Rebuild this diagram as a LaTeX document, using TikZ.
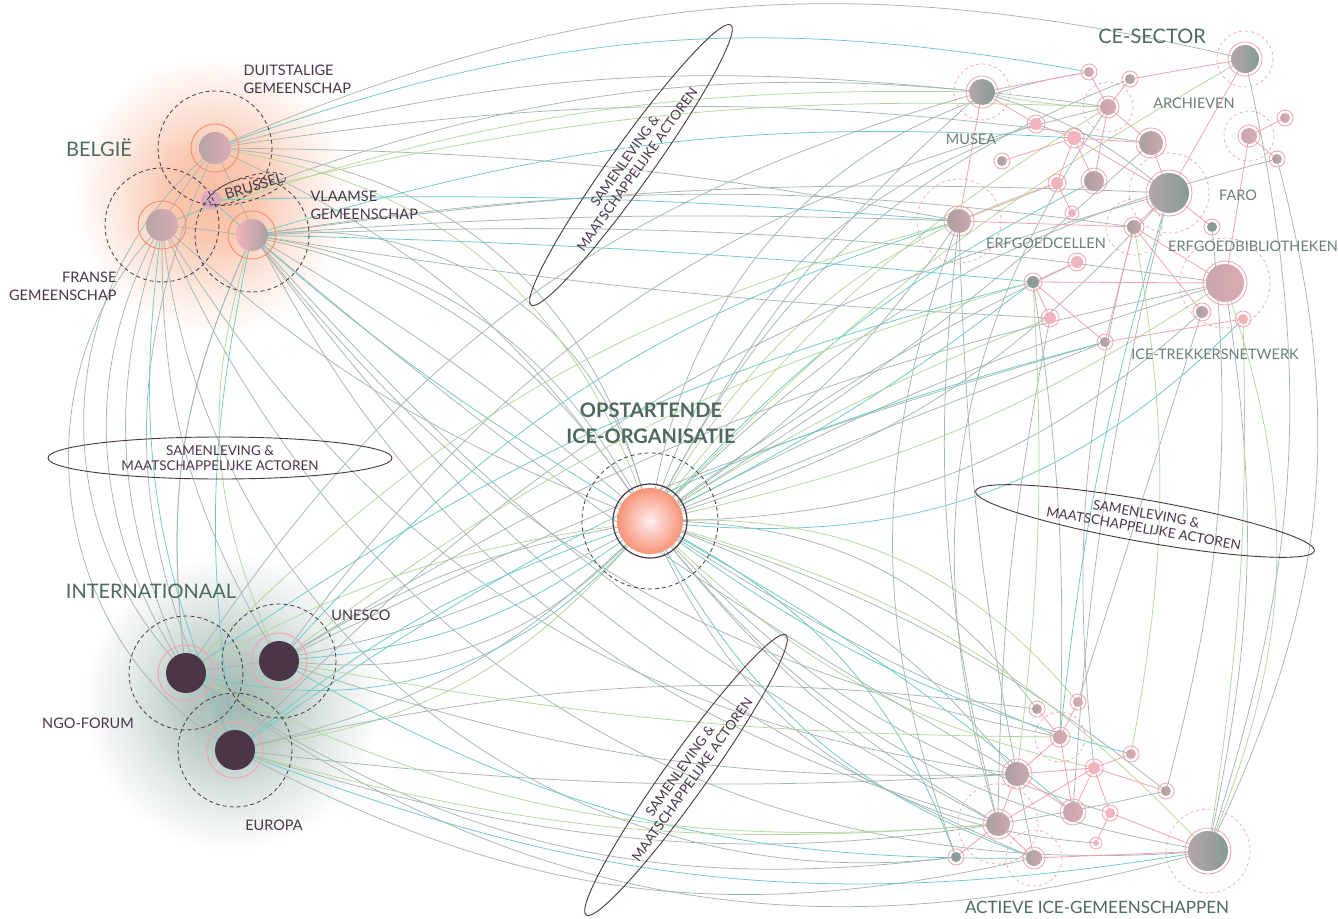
\documentclass[tikz,border=0pt]{standalone}
\usepackage{fontspec}
\setmainfont{Lato}
\usetikzlibrary{shapes.geometric}

\definecolor{linkgrey}{HTML}{A3B7B2}
\definecolor{linkteal}{HTML}{6CCAC4}
\definecolor{linkgreen}{HTML}{B2D79A}
\definecolor{rosepink}{HTML}{F4A3AD}
\definecolor{plum}{HTML}{4A3647}
\definecolor{titlegreen}{HTML}{4E6A60}
\definecolor{peach}{HTML}{F7AE8C}
\definecolor{sage}{HTML}{A2B8B2}
\definecolor{greyleft}{HTML}{B5A5A8}
\definecolor{greyright}{HTML}{849C97}
\definecolor{mauveleft}{HTML}{A9A0A2}
\definecolor{mauveright}{HTML}{CBA7AD}
\definecolor{roseleft}{HTML}{C9A6AC}
\definecolor{roseright}{HTML}{DAABB2}
\definecolor{softpink}{HTML}{F2B3BC}
\definecolor{slate}{HTML}{8E9C99}
\definecolor{brux}{HTML}{D8AABB}

\pgfdeclareradialshading{peachglow}{\pgfpoint{0bp}{0bp}}{color(0bp)=(peach!80);color(8bp)=(peach!68);color(17bp)=(peach!28);color(25bp)=(white)}
\pgfdeclareradialshading{sageglow}{\pgfpoint{0bp}{0bp}}{color(0bp)=(sage!100);color(8bp)=(sage!75);color(17bp)=(sage!30);color(25bp)=(white)}

\pgfdeclarelayer{glow}
\pgfdeclarelayer{links}
\pgfsetlayers{glow,links,main}

\begin{document}
\begin{tikzpicture}[x=1pt,y=-1pt]
    \tikzstyle{link}=[draw=linkgrey, line width=0.75pt]
    \tikzstyle{tlink}=[draw=linkteal, line width=0.75pt]
    \tikzstyle{glink}=[draw=linkgreen, line width=0.75pt]
    \tikzstyle{plink}=[draw=rosepink, line width=0.8pt]
    \tikzstyle{dot}=[circle, inner sep=0pt]
    \tikzstyle{gnode}=[left color=greyleft, right color=greyright]
    \tikzstyle{rnode}=[left color=roseleft, right color=roseright]
    \tikzstyle{mnode}=[left color=mauveleft, right color=mauveright]
    \tikzstyle{pnode}=[fill=softpink]
    \tikzstyle{snode}=[fill=slate]
    \tikzstyle{ring}=[draw=rosepink, line width=0.8pt]
    \tikzstyle{phalo}=[draw=rosepink, line width=0.7pt, dash pattern=on 3pt off 3pt]
    \tikzstyle{halo}=[draw=plum, line width=0.8pt, dash pattern=on 4pt off 3pt]
    \tikzstyle{bnode}=[dot, minimum size=32]
    \tikzstyle{inode}=[dot, minimum size=40, fill=plum]
    \tikzstyle{actor}=[ellipse, draw=plum, line width=0.9pt, inner sep=0pt, minimum width=344, minimum height=42, align=center, text=plum, font=\fontsize{13.5}{15}\selectfont]
    \tikzstyle{lbl}=[text=plum, font=\fontsize{14.5}{18}\selectfont]
    \tikzstyle{clbl}=[text=titlegreen!85!white, font=\fontsize{14.5}{18}\selectfont]
    \tikzstyle{title}=[text=titlegreen, font=\fontsize{20}{24}\selectfont]

    \useasboundingbox (0,0) rectangle (1338,918);

    % glows
    \begin{pgfonlayer}{glow}
    \fill[white] (0,0) rectangle (1338,918);
    \shade[shading=peachglow] (212,195) circle[radius=140];
    \shade[shading=sageglow] (232,702) circle[radius=150];
    \end{pgfonlayer}

    % centre
    \node[dot, minimum size=66, inner color=rosepink!20!white, outer color=peach!85!red] (org) at (650,521) {};
    \draw[plum, line width=1.2pt] (org.center) circle[radius=37];
    \draw[halo] (org.center) circle[radius=68];
    \node[text=titlegreen, font=\fontsize{20}{26}\bfseries\selectfont, align=center] (orglbl) at (651,423) {OPSTARTENDE\\ICE-ORGANISATIE};

    % belgie
    \node[bnode, left color=greyleft, right color=roseright] (duits) at (215,148) {};
    \node[bnode, left color=greyleft, right color=roseright] (frans) at (162,225) {};
    \node[bnode, left color=softpink, right color=mauveleft] (vlaams) at (252,235) {};
    \node[dot, minimum size=20, fill=brux] (brussel) at (211,200) {};
    \foreach \n in {duits,frans,vlaams}{
        \draw[draw=peach!80!red, line width=0.9pt] (\n.center) circle[radius=24];
        \draw[halo] (\n.center) circle[radius=57];
    }
    \draw[halo, rotate around={17:(247,189)}] (247,189) ellipse[x radius=40, y radius=12];

    % internationaal
    \node[inode] (ngo) at (186,673) {};
    \node[inode] (unesco) at (279,661) {};
    \node[inode] (europa) at (235,750) {};
    \foreach \n in {ngo,unesco,europa}{
        \draw[ring, line width=1pt] (\n.center) circle[radius=28];
        \draw[halo] (\n.center) circle[radius=57];
    }

    % ce-sector + actieve ice-gemeenschappen
    \foreach \n/\x/\y/\r/\s in {m1/982/92/13/gnode, c1/1245/59/14/gnode, p1/1089/72/5/rnode,
        p2/1130/79/5/mnode, a1/1108/107/8/rnode, p3/1036/124/6/pnode, p4/1074/138/7/pnode,
        g2/1151/143/12/mnode, p5/1002/161/5/mnode, p6/1057/183/6/pnode, g3/1094/181/10/mnode,
        faro/1169/193/20/gnode, p7/1072/213/4/pnode, e1/959/221/12/mnode, p8/1134/227/7/mnode,
        eb/1212/227/5/snode, f1/1249/136/8/rnode, f2/1285/118/5/rnode, f3/1277/159/5/mnode,
        p10/1077/262/6/pnode, t1/1033/282/6/snode, trek/1225/283/19/rnode, p11/1050/318/6/pnode,
        p12/1202/312/6/mnode, p13/1243/319/5/pnode, p14/1105/342/5/mnode,
        q1/1037/709/5/mnode, q2/1078/702/5/rnode, q3/1060/737/7/rnode, q4/1131/754/5/rnode,
        q5/1017/774/12/mnode, q6/1094/768/6/pnode, q7/1166/791/5/mnode, q8/1073/812/10/rnode,
        q9/1110/813/5/pnode, q10/998/824/12/mnode, q11/1096/843/3/pnode, q12/1034/858/8/mnode,
        ag/1208/851/20/gnode, q13/956/857/5/snode}{
        \node[dot, \s, minimum size=2*\r] (\n) at (\x,\y) {};
        \draw[ring] (\n.center) circle[radius=\r+3];
    }
    \foreach \n/\r in {m1/28, c1/28, a1/25, faro/40, e1/42, p8/28, f1/25, trek/45,
        q3/25, q10/40, q12/28, ag/42}
        \draw[phalo] (\n.center) circle[radius=\r];

    % samenleving
    \node[actor, rotate=54.5] (sam1) at (631,165) {SAMENLEVING \&\\MAATSCHAPPELIJKE ACTOREN};
    \node[actor] (sam2) at (220,458) {SAMENLEVING \&\\MAATSCHAPPELIJKE ACTOREN};
    \node[actor, rotate=-10] (sam3) at (1145,521) {SAMENLEVING \&\\MAATSCHAPPELIJKE ACTOREN};
    \node[actor, rotate=54.5] (sam4) at (686,775) {SAMENLEVING \&\\MAATSCHAPPELIJKE ACTOREN};

    % labels
    \node[title] (belg) at (99,148) {BELGIË};
    \node[lbl, align=left, anchor=west] (duitslbl) at (240,79) {DUITSTALIGE\\GEMEENSCHAP};
    \node[lbl, align=left, anchor=west] (vlaamslbl) at (307,205) {VLAAMSE\\GEMEENSCHAP};
    \node[lbl, align=right, anchor=east] (franslbl) at (120,286) {FRANSE\\GEMEENSCHAP};
    \node[lbl, rotate=17] (brussellbl) at (254,186) {BRUSSEL};
    \node[title] (intl) at (151,591) {INTERNATIONAAL};
    \node[lbl] (unescolbl) at (361,615) {UNESCO};
    \node[lbl] (ngolbl) at (88,723) {NGO-FORUM};
    \node[lbl] (europalbl) at (274,825) {EUROPA};
    \node[title] (ce) at (1152,36) {CE-SECTOR};
    \node[clbl] (archlbl) at (1194,103) {ARCHIEVEN};
    \node[clbl] (musealbl) at (971,139) {MUSEA};
    \node[clbl] (farolbl) at (1238,195) {FARO};
    \node[clbl] (celllbl) at (1046,243) {ERFGOEDCELLEN};
    \node[clbl] (biblbl) at (1253,246) {ERFGOEDBIBLIOTHEKEN};
    \node[clbl] (treklbl) at (1215,354) {ICE-TREKKERSNETWERK};
    \node[text=titlegreen, font=\fontsize{17}{20}\selectfont] (actlbl) at (1097,907) {ACTIEVE ICE-GEMEENSCHAPPEN};

    \begin{pgfonlayer}{links}
    % from the centre
    \path[link]
        (org) edge [bend right=15] (duits)
              edge [bend right=35] (duits)
              edge [bend left=10] (frans)
              edge [bend right=25] (frans)
              edge [bend right=5] (vlaams)
              edge [bend right=25] (vlaams)
              edge [bend right=40] (vlaams)
              edge [bend left=15] (europa)
              edge [bend right=10] (unesco)
              edge [bend left=25] (unesco)
              edge [bend left=10] (ngo)
              edge [bend left=10] (m1)
              edge [bend left=25] (p3)
              edge [bend right=15] (faro)
              edge [bend left=35] (p1)
              edge [bend left=20] (p2)
              edge [bend right=5] (g2)
              edge [bend right=10] (e1)
              edge [bend left=5] (p10)
              edge (p14)
              edge [bend left=5] (trek)
              edge [bend right=20] (p12)
              edge [bend left=15] (f3)
              edge [bend right=10] (q10)
              edge [bend left=15] (q5)
              edge [bend right=20] (ag)
              edge [bend left=10] (q7)
              edge [bend right=5] (q3)
              edge [bend left=25] (q1)
              edge [bend right=15] (q9)
              edge [bend right=30] (q11);
    \path[tlink]
        (org) edge [bend left=5] (brussel)
              edge [bend right=10] (europa)
              edge [bend left=15] (unesco)
              edge [bend left=30] (ngo)
              edge [bend right=5] (t1)
              edge [bend left=10] (g3)
              edge [bend right=25] (p13)
              edge [bend right=20] (q12)
              edge [bend left=20] (q13)
              edge [bend left=5] (q8)
              edge [bend right=10] (q4);
    \path[glink]
        (org) edge [bend right=10] (ngo)
              edge [bend left=20] (europa)
              edge [bend left=8] (c1)
              edge [bend right=10] (trek)
              edge [bend left=5] (p11)
              edge [bend left=20] (p6)
              edge [bend left=15] (ag)
              edge [bend right=15] (q6)
              edge [bend left=25] (q2)
              edge [bend left=10] (a1)
              edge [bend right=30] (duits);
    % belgie
    \path[link]
        (duits) edge [bend left=18] (c1)
                edge [bend left=10] (m1)
                edge [bend left=5] (e1)
                edge [bend left=8] (g2)
                edge [bend right=45] (ngo)
                edge [bend right=25] (europa)
                edge [bend right=25] (q10)
        (frans) edge [bend left=15] (a1)
                edge [bend right=20] (ngo)
                edge [bend right=15] (unesco)
                edge [bend right=25] (q5)
                edge [bend right=35] (ag)
                edge [bend right=45] (q13)
                edge [bend right=50] (europa)
        (vlaams) edge [bend left=5] (faro)
                 edge [bend left=3] (e1)
                 edge [bend left=5] (trek)
                 edge [bend right=10] (q10)
                 edge [bend right=15] (q12)
                 edge [bend right=15] (ngo)
                 edge [bend right=5] (q5)
                 edge [bend left=8] (p8)
                 edge [bend right=3] (p11)
                 edge [bend right=20] (q3);
    \path[tlink]
        (duits) edge [bend left=15] (p1)
        (frans) edge [bend right=15] (europa)
        (vlaams) edge [bend left=10] (p4)
                 edge [bend right=10] (europa)
                 edge [bend left=2] (t1)
        (brussel) edge [bend left=3] (e1);
    \path[glink]
        (frans) edge [bend left=10] (m1)
        (brussel) edge [bend left=8] (a1)
        (vlaams) edge [bend right=20] (unesco);
    % internationaal
    \path[link]
        (ngo) edge [bend right=20] (q13)
              edge [bend right=25] (ag)
              edge [bend left=20] (m1)
              edge [bend left=15] (vlaams)
              edge [bend left=35] (duits)
        (unesco) edge [bend right=10] (q5)
                 edge [bend left=10] (trek)
                 edge [bend left=20] (a1)
                 edge [bend left=5] (p14)
        (europa) edge [bend right=20] (q12)
                 edge [bend right=5] (q5)
                 edge [bend left=15] (faro)
                 edge [bend right=15] (q7)
                 edge [bend left=10] (q1);
    \path[tlink]
        (unesco) edge [bend right=15] (q12)
                 edge [bend left=15] (e1)
        (europa) edge [bend right=15] (ag)
                 edge [bend left=10] (p14)
        (ngo) edge [bend left=10] (t1);
    \path[glink]
        (ngo) edge [bend right=15] (q10)
              edge [bend left=15] (e1)
        (unesco) edge [bend left=10] (t1)
                 edge [bend right=5] (q3)
        (europa) edge [bend right=10] (q10);
    % ce-sector to actieve gemeenschappen
    \path[link]
        (e1) edge [bend right=10] (q10)
             edge [bend right=20] (q13)
             edge [bend right=5] (q12)
        (t1) edge [bend left=5] (q3)
        (trek) edge [bend left=10] (ag)
        (f3) edge [bend left=20] (ag)
        (c1) edge [bend left=15] (ag)
        (eb) edge [bend left=10] (q7)
        (faro) edge [bend right=5] (q8)
               edge [bend right=10] (m1)
        (p8) edge [bend right=10] (q6)
        (p12) edge (q2)
        (p11) edge [bend right=5] (q10)
        (a1) edge [bend right=25] (q10);
    \path[glink]
        (t1) edge [bend left=5] (q5)
        (trek) edge [bend left=20] (ag)
        (p13) edge [bend left=5] (ag)
        (p8) edge [bend left=10] (q4)
        (m1) edge [bend right=5] (a1);
    \path[tlink]
        (faro) edge [bend right=5] (q3);
    % pink networks
    \draw[plink] (m1) -- (p1) (p1) -- (a1) (p2) -- (a1) (p2) -- (c1) (m1) -- (p3)
        (p3) -- (p4) (m1) -- (e1) (p4) -- (g2) (p4) -- (p5) (p4) -- (p6) (p4) -- (g3)
        (p4) -- (faro) (a1) -- (g3) (a1) -- (g2) (g2) -- (faro) (p6) -- (e1) (p6) -- (p7)
        (e1) -- (p8) (p8) -- (faro) (faro) -- (eb) (faro) -- (c1) (f1) -- (f2) (f1) -- (f3)
        (f1) -- (trek) (p8) -- (trek) (p8) -- (p12) (p8) -- (p14) (t1) -- (p10)
        (t1) -- (trek) (t1) -- (p11) (t1) -- (p14) (p14) -- (p13);
    \draw[plink] (q1) -- (q3) (q2) -- (q3) (q3) -- (q5) (q3) -- (q8) (q5) -- (q6)
        (q6) -- (q4) (q6) -- (q7) (q6) -- (q8) (q6) -- (q10) (q5) -- (q10) (q5) -- (q8)
        (q10) -- (q13) (q10) -- (q12) (q9) -- (q11) (q9) -- (ag) (q12) -- (ag) (q6) -- (q9);
    \end{pgfonlayer}
\end{tikzpicture}
\end{document}
